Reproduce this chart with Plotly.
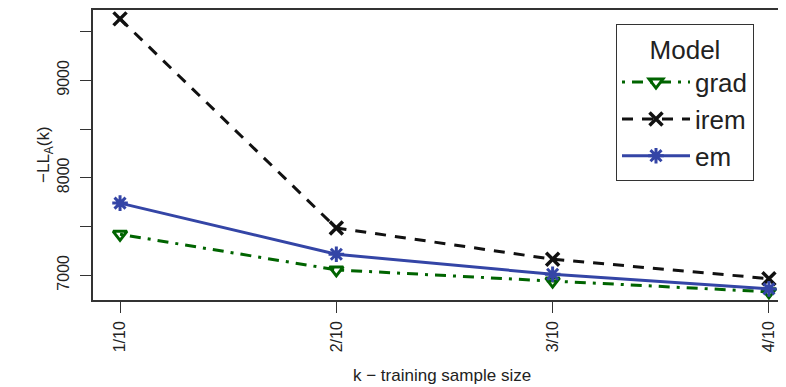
import plotly.graph_objects as go

categories = ["1/10", "2/10", "3/10", "4/10"]
x_pos = [1, 2, 3, 4]
grad = [7420, 7055, 6940, 6830]
irem = [9630, 7485, 7165, 6965]
em = [7740, 7215, 7010, 6860]
y_tickvals = [7000, 7500, 8000, 8500, 9000, 9500]
y_ticktext = ["7000", "", "8000", "", "9000", ""]

FONT = "Liberation Sans, Arial, sans-serif"
GREEN = "#006400"
BLUE = "#3445A6"
BLACK = "#111111"

fig = go.Figure()
fig.add_trace(go.Scatter(
    x=x_pos, y=grad, name="grad", mode="lines+markers",
    line=dict(color=GREEN, width=3, dash="3px,7px,11px,7px"),
    marker=dict(symbol="triangle-down-open", size=12, color=GREEN,
                line=dict(color=GREEN, width=3)),
))
fig.add_trace(go.Scatter(
    x=x_pos, y=irem, name="irem", mode="lines+markers",
    line=dict(color=BLACK, width=3, dash="11px,9px"),
    marker=dict(symbol="x-thin-open", size=13, color=BLACK,
                line=dict(color=BLACK, width=3.5)),
))
fig.add_trace(go.Scatter(
    x=x_pos, y=em, name="em", mode="lines+markers",
    line=dict(color=BLUE, width=3),
    marker=dict(symbol="asterisk-open", size=13, color=BLUE,
                line=dict(color=BLUE, width=3)),
))

# page body has an 8px margin; positions below are window px minus 8
OFF = 8
W, H = 786 - OFF, 387 - OFF
L, R, T = 93 - OFF, 0, 0
B = H - (300 - OFF)
pw = W - L - R
ph = H - T - B

def px_x(xw):
    return (xw - OFF - L) / pw

def px_y(yw):
    return (H - B - (yw - OFF)) / ph

fig.update_layout(
    width=W, height=H,
    margin=dict(l=L, r=R, t=T, b=B),
    paper_bgcolor="white", plot_bgcolor="white",
    font=dict(family=FONT, size=16, color="#222"),
    showlegend=True,
    legend=dict(
        x=px_x(616), y=px_y(22), xanchor="left", yanchor="top",
        bgcolor="white", bordercolor="#333", borderwidth=1,
        font=dict(size=26, family=FONT, color="#222"),
        title=dict(text="Model", side="top center", font=dict(size=26, family=FONT, color="#222")),
        itemwidth=68, tracegroupgap=0,
    ),
    xaxis=dict(
        range=[0.875, 4.079], tickvals=x_pos, ticktext=categories,
        tickangle=-90, ticks="outside", ticklen=11, tickcolor="#333",
        showline=True, linecolor="#333", linewidth=1.5, mirror=True,
        showgrid=False, zeroline=False, tickfont=dict(size=16),
        ticklabelstandoff=2,
    ),
    yaxis=dict(
        range=[6746, 9721], tickvals=y_tickvals, ticktext=y_ticktext,
        tickangle=-90, ticks="outside", ticklen=11, tickcolor="#333",
        showline=True, linecolor="#333", linewidth=1.5, mirror=False,
        showgrid=False, zeroline=False, tickfont=dict(size=16),
        ticklabelstandoff=5,
    ),
    annotations=[
        dict(text="k − training sample size", xref="paper", yref="paper",
             x=px_x(442), y=px_y(376), xanchor="center", yanchor="middle",
             showarrow=False, font=dict(size=17)),
        dict(text="−LL<sub>A</sub>(k)", xref="paper", yref="paper",
             x=px_x(45), y=0.5, xanchor="center", yanchor="middle",
             textangle=-90, showarrow=False, font=dict(size=17)),
    ],
)

fig.write_html("out.html")
